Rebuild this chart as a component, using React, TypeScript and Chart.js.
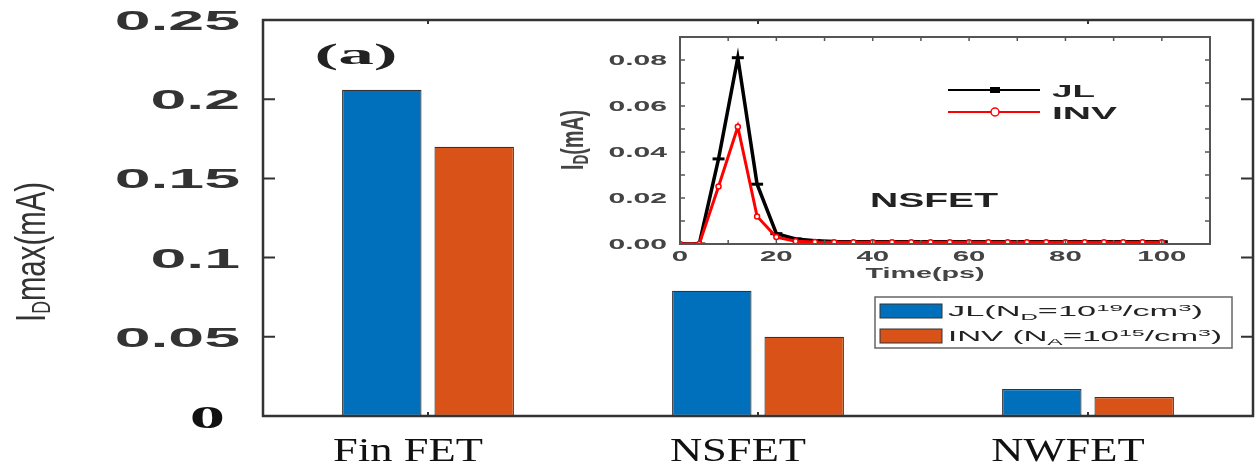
import React, { useEffect, useRef } from 'react';
import { Chart, registerables } from 'chart.js';
Chart.register(...registerables);

// ---- main bar chart data ----
const categories = ['Fin FET', 'NSFET', 'NWFET'];
const jlMax = [0.206, 0.079, 0.017];
const invMax = [0.170, 0.050, 0.012];
const yTickValues = [0, 0.05, 0.1, 0.15, 0.2, 0.25];
const yTickLabels = ['0', '0.05', '0.1', '0.15', '0.2', '0.25'];

// ---- inset line chart data ----
const timePs = [0, 4, 8, 12, 16, 20, 24, 28, 32, 36, 40, 44, 48, 52, 56, 60, 64, 68, 72, 76, 80, 84, 88, 92, 96, 100];
const jlCurrent = [0, 0, 0.037, 0.081, 0.026, 0.0045, 0.0022, 0.0014, 0.0011, 0.001, 0.001, 0.001, 0.001, 0.001, 0.001, 0.001, 0.001, 0.001, 0.001, 0.001, 0.001, 0.001, 0.001, 0.001, 0.001, 0.001];
const invCurrent = [0, 0, 0.025, 0.051, 0.012, 0.003, 0.0012, 0.0009, 0.0008, 0.0008, 0.0008, 0.0008, 0.0008, 0.0008, 0.0008, 0.0008, 0.0008, 0.0008, 0.0008, 0.0008, 0.0008, 0.0008, 0.0008, 0.0008, 0.0008, 0.0008];
const insetXTicks = [0, 20, 40, 60, 80, 100];
const insetXTickLabels = ['0', '20', '40', '60', '80', '100'];
const insetYTicks = [0, 0.02, 0.04, 0.06, 0.08];
const insetYTickLabels = ['0.00', '0.02', '0.04', '0.06', '0.08'];
const insetYMinor = [0.01, 0.03, 0.05, 0.07];
const insetXMinor = [10, 30, 50, 70, 90, 110];

const BLUE = '#0070BD';
const ORANGE = '#D95319';
const SANS = '"Liberation Sans", Arial, sans-serif';
const SERIF = '"Liberation Serif", "Times New Roman", serif';

type Seg = { t: string; scale?: number; dy?: number };
type TOpts = {
  size: number; family: string; weight?: string; color: string;
  width?: number; sx?: number; sy?: number;
  align?: 'left' | 'center' | 'right'; rotate?: boolean;
};

function drawText(ctx: CanvasRenderingContext2D, segs: Seg[], x: number, y: number, o: TOpts) {
  ctx.save();
  const fontFor = (s: Seg) => `${o.weight || 'normal'} ${o.size * (s.scale || 1)}px ${o.family}`;
  let W = 0;
  const ws = segs.map((s) => {
    ctx.font = fontFor(s);
    const w = ctx.measureText(s.t).width;
    W += w;
    return w;
  });
  const ax = o.width ? o.width / W : o.sx || 1;
  const ay = o.sy || 1;
  ctx.translate(x, y);
  if (o.rotate) ctx.rotate(-Math.PI / 2);
  ctx.scale(ax, ay);
  let cx = o.align === 'right' ? -W : o.align === 'left' ? 0 : -W / 2;
  const base = o.size * 0.36;
  ctx.fillStyle = o.color;
  ctx.textBaseline = 'alphabetic';
  ctx.textAlign = 'left';
  segs.forEach((s, i) => {
    ctx.font = fontFor(s);
    ctx.fillText(s.t, cx, base + (s.dy || 0) * o.size);
    cx += ws[i];
  });
  ctx.restore();
}

const mainDecor = {
  id: 'mainDecor',
  afterDraw(chart: any) {
    const ctx: CanvasRenderingContext2D = chart.ctx;
    const { left, right, top, bottom } = chart.chartArea;
    const ys = chart.scales.y;
    const xs = chart.scales.x;
    ctx.save();
    // box
    ctx.strokeStyle = '#333';
    ctx.lineWidth = 2.5;
    ctx.strokeRect(left, top, right - left, bottom - top);
    // y ticks inward
    ctx.lineWidth = 2;
    yTickValues.forEach((v) => {
      const py = ys.getPixelForValue(v);
      ctx.beginPath();
      ctx.moveTo(left, py); ctx.lineTo(left + 12, py);
      ctx.moveTo(right, py); ctx.lineTo(right - 12, py);
      ctx.stroke();
    });
    // category ticks
    categories.forEach((_, i) => {
      const px = xs.getPixelForValue(i);
      ctx.beginPath();
      ctx.moveTo(px, bottom); ctx.lineTo(px, bottom - 4);
      ctx.moveTo(px, top); ctx.lineTo(px, top + 4);
      ctx.stroke();
    });
    ctx.restore();

    // y tick labels
    yTickValues.forEach((v, i) => {
      const py = ys.getPixelForValue(v);
      if (yTickLabels[i] === '0') {
        drawText(ctx, [{ t: yTickLabels[i] }], left - 38, py, { size: 32, family: SERIF, weight: 'bold', color: '#111', sx: 2.2, align: 'right' });
      } else {
        drawText(ctx, [{ t: yTickLabels[i] }], left - 23, py, { size: 28, family: SANS, weight: 'bold', color: '#333', sx: 2.3, align: 'right' });
      }
    });
    // x labels
    categories.forEach((c, i) => {
      const px = xs.getPixelForValue(i);
      drawText(ctx, [{ t: c }], px - 20, bottom + 33, { size: 33, family: SERIF, color: '#111', sx: 1.35, align: 'center' });
    });
    // y title
    drawText(ctx, [{ t: 'I' }, { t: 'D', scale: 0.6, dy: 0.12 }, { t: 'max(mA)' }], 30, 252, {
      size: 26, family: SANS, color: '#333', width: 140, sy: 1.6, rotate: true, align: 'center',
    });
    // (a)
    drawText(ctx, [{ t: '(a)' }], 356, 53, { size: 30, family: SERIF, weight: 'bold', color: '#222', width: 83, align: 'center' });

    // legend
    ctx.save();
    ctx.fillStyle = '#fff';
    ctx.fillRect(875, 297, 357, 51);
    ctx.strokeStyle = '#666';
    ctx.lineWidth = 1.5;
    ctx.strokeRect(875, 297, 357, 51);
    ctx.lineWidth = 1;
    ctx.strokeStyle = '#333';
    ctx.fillStyle = BLUE;
    ctx.fillRect(880, 304, 62, 14);
    ctx.strokeRect(880, 304, 62, 14);
    ctx.fillStyle = ORANGE;
    ctx.fillRect(880, 329, 62, 14);
    ctx.strokeRect(880, 329, 62, 14);
    ctx.restore();
    drawText(ctx, [
      { t: 'JL(N' }, { t: 'D', scale: 0.7, dy: 0.28 }, { t: '=10' }, { t: '19', scale: 0.7, dy: -0.38 },
      { t: '/cm' }, { t: '3', scale: 0.7, dy: -0.38 }, { t: ')' },
    ], 948, 311, { size: 14, family: SANS, color: '#222', width: 255, align: 'left' });
    drawText(ctx, [
      { t: 'INV (N' }, { t: 'A', scale: 0.7, dy: 0.28 }, { t: '=10' }, { t: '15', scale: 0.7, dy: -0.38 },
      { t: '/cm' }, { t: '3', scale: 0.7, dy: -0.38 }, { t: ')' },
    ], 948, 336, { size: 14, family: SANS, color: '#222', width: 274, align: 'left' });
  },
};

const insetDecor = {
  id: 'insetDecor',
  afterDraw(chart: any) {
    const ctx: CanvasRenderingContext2D = chart.ctx;
    const { left, right, top, bottom } = chart.chartArea;
    const ys = chart.scales.y;
    const xs = chart.scales.x;
    ctx.save();
    ctx.strokeStyle = '#555';
    ctx.lineWidth = 2;
    ctx.strokeRect(left, top, right - left, bottom - top);
    ctx.lineWidth = 1.5;
    [...insetYTicks, ...insetYMinor].forEach((v) => {
      const py = ys.getPixelForValue(v);
      ctx.beginPath();
      ctx.moveTo(left, py); ctx.lineTo(left + 5, py);
      ctx.moveTo(right, py); ctx.lineTo(right - 5, py);
      ctx.stroke();
    });
    [...insetXTicks, ...insetXMinor].forEach((v) => {
      const px = xs.getPixelForValue(v);
      ctx.beginPath();
      ctx.moveTo(px, bottom); ctx.lineTo(px, bottom - 4);
      ctx.moveTo(px, top); ctx.lineTo(px, top + 4);
      ctx.stroke();
    });
    ctx.restore();

    insetYTicks.forEach((v, i) => {
      drawText(ctx, [{ t: insetYTickLabels[i] }], left - 13, ys.getPixelForValue(v), {
        size: 14, family: SANS, weight: 'bold', color: '#444', sx: 2.15, align: 'right',
      });
    });
    insetXTicks.forEach((v, i) => {
      drawText(ctx, [{ t: insetXTickLabels[i] }], xs.getPixelForValue(v), bottom + 12, {
        size: 14, family: SANS, weight: 'bold', color: '#444', sx: 2.1, align: 'center',
      });
    });
    drawText(ctx, [{ t: 'Time(ps)' }], 380, 245, { size: 14, family: SANS, weight: 'bold', color: '#444', width: 119, align: 'center' });
    drawText(ctx, [{ t: 'I' }, { t: 'D', scale: 0.7, dy: 0.15 }, { t: '(mA)' }], 27, 112, {
      size: 18, family: SANS, weight: 'bold', color: '#444', width: 60, sy: 1.7, rotate: true, align: 'center',
    });
    drawText(ctx, [{ t: 'NSFET' }], 389, 171, { size: 21, family: SANS, weight: 'bold', color: '#222', width: 128, align: 'center' });

    // inset legend
    ctx.save();
    ctx.lineWidth = 2;
    ctx.strokeStyle = '#000';
    ctx.beginPath(); ctx.moveTo(403, 62); ctx.lineTo(495, 62); ctx.stroke();
    ctx.fillStyle = '#000';
    ctx.fillRect(445, 59, 10, 6);
    ctx.strokeStyle = '#f00';
    ctx.beginPath(); ctx.moveTo(403, 84); ctx.lineTo(495, 84); ctx.stroke();
    ctx.fillStyle = '#fff';
    ctx.lineWidth = 1.5;
    ctx.beginPath(); ctx.arc(450, 84, 4, 0, Math.PI * 2); ctx.fill(); ctx.stroke();
    ctx.restore();
    drawText(ctx, [{ t: 'JL' }], 507, 63, { size: 16, family: SANS, weight: 'bold', color: '#222', width: 43, align: 'left' });
    drawText(ctx, [{ t: 'INV' }], 507, 85, { size: 16, family: SANS, weight: 'bold', color: '#222', width: 65, align: 'left' });
  },
};

export default function App() {
  const mainRef = useRef<HTMLCanvasElement>(null);
  const insetRef = useRef<HTMLCanvasElement>(null);

  useEffect(() => {
    const main = new Chart(mainRef.current!, {
      type: 'bar',
      data: {
        labels: categories,
        datasets: [
          { label: 'JL', data: jlMax, backgroundColor: BLUE, borderColor: '#333', borderWidth: 1.2, borderSkipped: false, categoryPercentage: 0.56, barPercentage: 0.86 },
          { label: 'INV', data: invMax, backgroundColor: ORANGE, borderColor: '#333', borderWidth: 1.2, borderSkipped: false, categoryPercentage: 0.56, barPercentage: 0.86 },
        ],
      },
      options: {
        animation: false,
        responsive: false,
        devicePixelRatio: 1,
        layout: { padding: { top: 20, right: 7, left: 0, bottom: 0 } },
        plugins: { legend: { display: false }, tooltip: { enabled: false } },
        scales: {
          x: {
            grid: { display: false }, border: { display: false }, ticks: { display: false },
            afterFit: (s: any) => { s.height = 55; },
          },
          y: {
            min: 0, max: 0.25,
            grid: { display: false }, border: { display: false },
            ticks: { display: false, stepSize: 0.05 },
            afterFit: (s: any) => { s.width = 263; },
          },
        },
      },
      plugins: [mainDecor],
    } as any);

    const inset = new Chart(insetRef.current!, {
      type: 'line',
      data: {
        datasets: [
          {
            label: 'JL', data: timePs.map((t, i) => ({ x: t, y: jlCurrent[i] })),
            borderColor: '#000', borderWidth: 3.5, tension: 0,
            pointStyle: 'line', pointRadius: 6, pointBorderWidth: 3, pointBorderColor: '#000', pointBackgroundColor: '#000',
            order: 1,
          },
          {
            label: 'INV', data: timePs.map((t, i) => ({ x: t, y: invCurrent[i] })),
            borderColor: '#f00', borderWidth: 3, tension: 0,
            pointStyle: 'circle', pointRadius: 2.5, pointBorderWidth: 1.5, pointBorderColor: '#f00', pointBackgroundColor: '#fff',
            order: 0,
          },
        ],
      },
      options: {
        animation: false,
        responsive: false,
        devicePixelRatio: 1,
        layout: { padding: { top: 7, right: 15, left: 0, bottom: 0 } },
        plugins: { legend: { display: false }, tooltip: { enabled: false } },
        scales: {
          x: {
            type: 'linear', min: 0, max: 110,
            grid: { display: false }, border: { display: false }, ticks: { display: false },
            afterFit: (s: any) => { s.height = 42; },
          },
          y: {
            min: 0, max: 0.09,
            grid: { display: false }, border: { display: false }, ticks: { display: false },
            afterFit: (s: any) => { s.width = 135; },
          },
        },
      },
      plugins: [insetDecor],
    } as any);

    return () => { main.destroy(); inset.destroy(); };
  }, []);

  return (
    <div style={{ position: 'absolute', left: 0, top: 0, width: 1260, height: 471, background: '#fff', overflow: 'hidden' }}>
      <canvas ref={mainRef} width={1260} height={471} style={{ position: 'absolute', left: 0, top: 0, width: 1260, height: 471 }} />
      <canvas ref={insetRef} width={680} height={258} style={{ position: 'absolute', left: 545, top: 28, width: 680, height: 258 }} />
    </div>
  );
}
